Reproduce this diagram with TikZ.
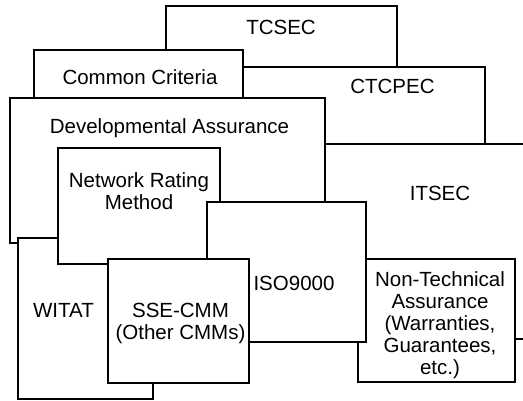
\documentclass[tikz,border=0pt]{standalone}
\usepackage{fontspec}
\setmainfont{Liberation Sans}
\begin{document}
\begin{tikzpicture}[x=1pt,y=-1pt,
  panel/.style={draw=black,fill=white,line width=2pt,line join=miter},
  lbl/.style={font=\fontsize{20.5}{22}\selectfont,inner sep=0pt,anchor=base,align=center}]
\useasboundingbox (0,0) rectangle (523,400);
\clip (0,0) rectangle (523,400);
\fill[white] (0,0) rectangle (523,400);
% back layers
\path[panel] (166,6) rectangle (397,80);
\node[lbl] (tcsec) at (281,34) {TCSEC};
\path[panel] (200,67) rectangle (485,160);
\node[lbl] (ctcpec) at (392.5,93) {CTCPEC};
\path[panel] (34,50) rectangle (243,110);
\node[lbl] (cc) at (140,84) {Common Criteria};
\path[panel] (325,144) rectangle (540,339);
\node[lbl] (itsec) at (440,200) {ITSEC};
\path[panel] (10,98) rectangle (325,243);
\node[lbl] (dev) at (169.5,133) {Developmental Assurance};
% middle layers
\path[panel] (18,238) rectangle (153,399);
\node[lbl] (witat) at (63.5,317) {WITAT};
\path[panel] (58,148) rectangle (220,264);
\node[lbl] (nrm) at (139,209) {Network Rating\\Method};
\path[panel] (358,259) rectangle (515,382);
\node[lbl] (nta) at (440,374) {Non-Technical\\Assurance\\(Warranties,\\Guarantees,\\etc.)};
% front layers
\path[panel] (207,202) rectangle (366,342);
\node[lbl] (iso) at (294,290) {ISO9000};
\path[panel] (108,259) rectangle (249,383);
\node[lbl] (sse) at (180.5,339) {SSE-CMM\\(Other CMMs)};
\end{tikzpicture}
\end{document}
